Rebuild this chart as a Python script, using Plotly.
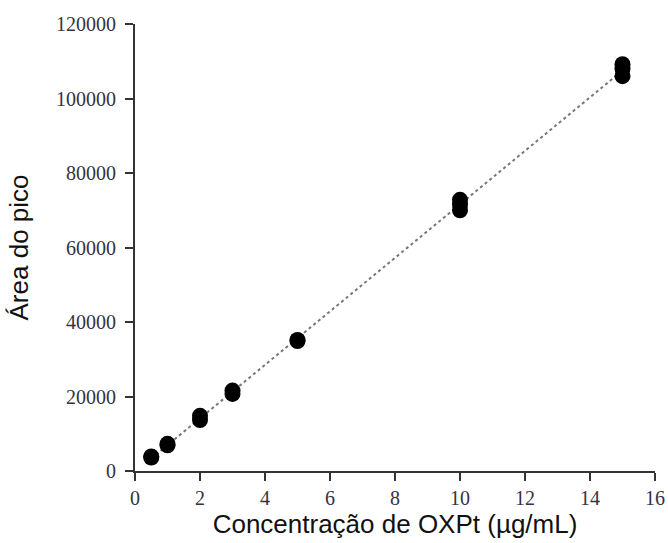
import numpy as np
import plotly.graph_objects as go

conc = [0.5, 0.5, 1, 1, 2, 2, 3, 3, 5, 5, 10, 10, 10, 15, 15, 15]
area = [3600, 3900, 6900, 7300, 13700, 14800, 20700, 21600, 34900, 35200, 70000, 71500, 72800, 106000, 108000, 109200]

xticks = [0, 2, 4, 6, 8, 10, 12, 14, 16]
yticks = [0, 20000, 40000, 60000, 80000, 100000, 120000]

slope, intercept = np.polyfit(conc, area, 1)
fit_x = [0.5, 15]
fit_y = [slope * v + intercept for v in fit_x]

fig = go.Figure()
fig.add_trace(go.Scatter(x=fit_x, y=fit_y, mode="lines",
                         line=dict(color="#777777", width=2, dash="dot"),
                         showlegend=False, hoverinfo="skip", cliponaxis=False))
fig.add_trace(go.Scatter(x=conc, y=area, mode="markers",
                         marker=dict(color="black", size=16),
                         showlegend=False, cliponaxis=False))

tickfont = dict(family="Liberation Serif, Times New Roman, serif", size=20, color="#333344")
titlefont = dict(family="Liberation Sans, Arial, sans-serif", size=26, color="#111111")
fig.update_layout(
    width=668, height=543,
    margin=dict(l=135, r=13, t=24, b=72),
    plot_bgcolor="white", paper_bgcolor="white",
    xaxis=dict(range=[0, 16], tickvals=xticks, ticktext=[str(v) for v in xticks],
               automargin=False,
               showgrid=False, zeroline=False, showline=True, linecolor="#333333", linewidth=2,
               ticks="outside", ticklen=8, tickwidth=2, tickcolor="#333333",
               tickfont=tickfont,
               title=dict(text="Concentração de OXPt (µg/mL)", font=titlefont, standoff=6)),
    yaxis=dict(range=[0, 120000], tickvals=yticks, ticktext=[str(v) for v in yticks],
               automargin=False, ticklabelstandoff=5,
               showgrid=False, zeroline=False, showline=True, linecolor="#333333", linewidth=2,
               ticks="outside", ticklen=8, tickwidth=2, tickcolor="#333333",
               tickfont=tickfont,
               title=dict(text="Área do pico", font=titlefont, standoff=20)),
)
fig.write_html("out.html")
